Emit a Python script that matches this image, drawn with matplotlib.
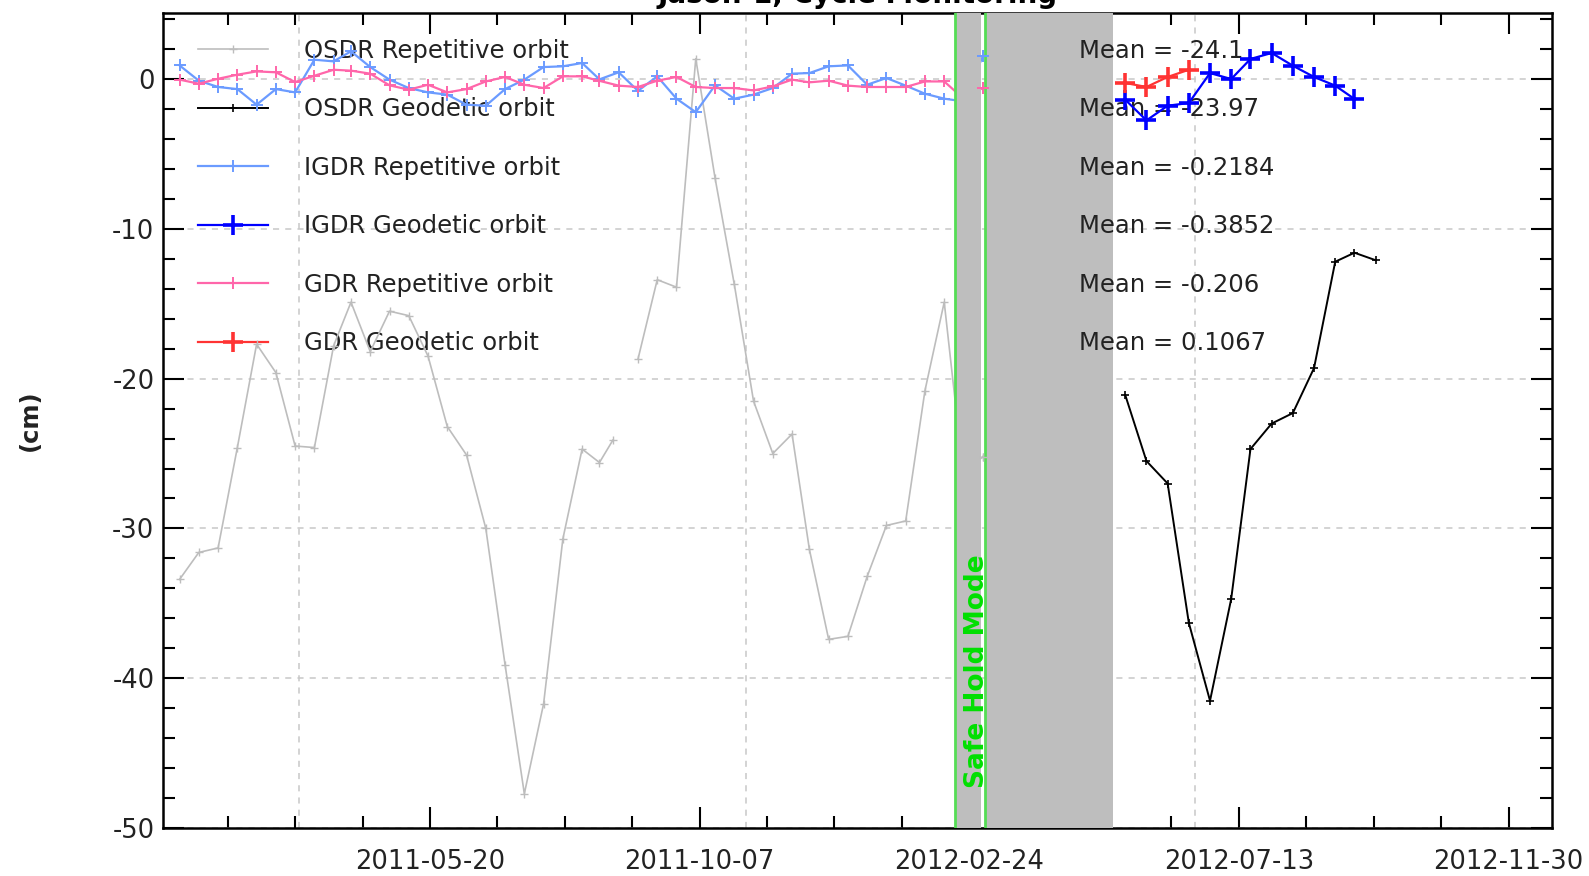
import matplotlib
matplotlib.use('Agg')
import matplotlib.pyplot as plt
import matplotlib.dates as mdates
import matplotlib.ticker as mticker
import pandas as pd

plt.rcParams['font.family'] = ['DejaVu Sans']
plt.rcParams['axes.unicode_minus'] = False

# repetitive orbit cycles (before and just after the safe hold)
rep_dates = ['2011-01-10', '2011-01-20', '2011-01-30', '2011-02-09', '2011-02-19',
             '2011-03-01', '2011-03-11', '2011-03-21', '2011-03-31', '2011-04-09',
             '2011-04-19', '2011-04-29', '2011-05-09', '2011-05-19', '2011-05-29',
             '2011-06-08', '2011-06-18', '2011-06-28', '2011-07-08', '2011-07-18',
             '2011-07-28', '2011-08-07', '2011-08-16', '2011-08-26', '2011-09-05',
             '2011-09-15', '2011-09-25', '2011-10-05', '2011-10-15', '2011-10-25',
             '2011-11-04', '2011-11-14', '2011-11-24', '2011-12-03', '2011-12-13',
             '2011-12-23', '2012-01-02', '2012-01-12', '2012-01-22', '2012-02-01',
             '2012-02-11', '2012-02-21', '2012-03-02']

igdr_rep = [0.90, -0.12, -0.54, -0.68, -1.72, -0.68, -0.90, 1.28, 1.17, 1.84,
            0.79, -0.05, -0.61, -0.90, -1.05, -1.72, -1.79, -0.68, -0.05, 0.79,
            0.84, 1.06, -0.03, 0.44, -0.80, 0.17, -1.32, -2.22, -0.43, -1.32,
            -1.05, -0.61, 0.35, 0.39, 0.84, 0.90, -0.39, 0.06, -0.45, -0.99,
            -1.32, -1.50, 1.50]

gdr_rep = [-0.05, -0.32, 0.01, 0.28, 0.50, 0.44, -0.21, 0.21, 0.61, 0.55,
           0.35, -0.43, -0.72, -0.39, -0.90, -0.68, -0.17, 0.13, -0.39, -0.61,
           0.17, 0.17, -0.13, -0.45, -0.54, -0.12, 0.13, -0.54, -0.61, -0.61,
           -0.77, -0.50, -0.05, -0.23, -0.12, -0.45, -0.54, -0.54, -0.54, -0.17,
           -0.17, -1.32, -0.61]

osdr_dates = ['2011-01-10', '2011-01-20', '2011-01-30', '2011-02-09', '2011-02-19',
              '2011-03-01', '2011-03-11', '2011-03-21', '2011-03-31', '2011-04-09',
              '2011-04-19', '2011-04-29', '2011-05-09', '2011-05-19', '2011-05-29',
              '2011-06-08', '2011-06-18', '2011-06-28', '2011-07-08', '2011-07-18',
              '2011-07-28', '2011-08-07', '2011-08-16', '2011-08-23', None,
              '2011-09-05', '2011-09-15', '2011-09-25', '2011-10-05', '2011-10-15',
              '2011-10-25', '2011-11-04', '2011-11-14', '2011-11-24', '2011-12-03',
              '2011-12-13', '2011-12-23', '2012-01-02', '2012-01-12', '2012-01-22',
              '2012-02-01', '2012-02-11', '2012-02-21', '2012-03-02']

osdr_rep = [-33.4, -31.6, -31.3, -24.6, -17.7, -19.6, -24.5, -24.6, -17.8, -14.9,
            -18.2, -15.5, -15.8, -18.5, -23.2, -25.1, -30.0, -39.1, -47.7, -41.7,
            -30.7, -24.7, -25.6, -24.1, None,
            -18.7, -13.4, -13.9, 1.35, -6.6, -13.7, -21.5, -25.0, -23.7, -31.4,
            -37.4, -37.2, -33.2, -29.8, -29.5, -20.8, -14.9, -26.5, -25.2]

# geodetic orbit sub-cycles
geo_dates = ['2012-05-15', '2012-05-26', '2012-06-06', '2012-06-17', '2012-06-28',
             '2012-07-09', '2012-07-19', '2012-07-30', '2012-08-10', '2012-08-21',
             '2012-09-01', '2012-09-11', '2012-09-22']

osdr_geo = [-21.1, -25.5, -27.0, -36.3, -41.5, -34.7, -24.7, -23.0, -22.3, -19.3,
            -12.2, -11.6, -12.1]
igdr_geo = [-1.39, -2.77, -1.79, -1.61, 0.39, -0.01, 1.33, 1.73, 0.88, 0.13,
            -0.45, -1.34]
gdr_geo = [-0.27, -0.54, 0.13, 0.61]

labels = ['OSDR Repetitive orbit', 'OSDR Geodetic orbit', 'IGDR Repetitive orbit',
          'IGDR Geodetic orbit', 'GDR Repetitive orbit', 'GDR Geodetic orbit']
means = [-24.1, -23.97, -0.2184, -0.3852, -0.206, 0.1067]

shm_start = pd.Timestamp('2012-02-16 18:00')
gap_start = pd.Timestamp('2012-03-01 06:00')
shm_end = pd.Timestamp('2012-03-03 06:00')
span_end = pd.Timestamp('2012-05-08 12:00')
vgrid = ['2011-03-13', '2011-10-31', '2012-06-20']

fig = plt.figure(figsize=(15.89, 8.76), dpi=100)
ax = fig.add_axes([0.1024, 0.0546, 0.8743, 0.9306])

styles = [
    # colour, line width, marker size, marker edge width
    ('#bdbdbd', 1.2, 6, 1.0),
    ('#000000', 1.4, 6, 1.2),
    ('#6b9bff', 1.6, 9, 1.4),
    ('#0000ff', 1.6, 14, 2.6),
    ('#ff66aa', 1.6, 9, 1.4),
    ('#ff3333', 1.6, 14, 2.6),
]
data = [
    (osdr_dates, osdr_rep),
    (geo_dates, osdr_geo),
    (rep_dates, igdr_rep),
    (geo_dates[:len(igdr_geo)], igdr_geo),
    (rep_dates, gdr_rep),
    (geo_dates[:len(gdr_geo)], gdr_geo),
]

for (dates, vals), lab, (col, lw, ms, mew) in zip(data, labels, styles):
    s = pd.Series(vals, index=pd.to_datetime(dates), dtype=float)
    # geodetic series sit above the mean annotations
    z = 5 if s.index.min() > span_end else 2
    ax.plot(s.index, s.values, color=col, lw=lw, marker='+', ms=ms, mew=mew,
            label=lab, zorder=z)
    # cycles after the safe hold stay visible above the shading
    late = s[(s.index > gap_start) & (s.index < span_end)].dropna()
    if len(late):
        ax.plot(late.index, late.values, ls='none', color=col, marker='+',
                ms=ms, mew=mew, zorder=6)

# safe hold mode shading
ax.axvspan(shm_start, gap_start, color='#bebebe', lw=0, zorder=3)
ax.axvspan(shm_end, span_end, color='#bebebe', lw=0, zorder=3)
ax.axvline(shm_start, color='#55dd55', lw=2, zorder=4)
ax.axvline(shm_end, color='#55dd55', lw=2, zorder=4)
ax.text(pd.Timestamp('2012-02-28 05:00'), -47.3, 'Safe Hold Mode', rotation=90,
        color='#00e000', fontsize=19, fontweight='bold', ha='center', va='bottom',
        zorder=5)

# grid
ax.yaxis.grid(True, which='major', linestyle=(0, (4, 4)), color='#c8c8c8', lw=1.1, zorder=0)
for d in vgrid:
    ax.axvline(pd.Timestamp(d), linestyle=(0, (4, 4)), color='#c8c8c8', lw=1.1, zorder=0)
ax.set_axisbelow(True)

ax.set_xlim(pd.Timestamp('2011-01-01 06:00'), pd.Timestamp('2012-12-22 13:00'))
ax.set_ylim(-50, 4.4)

major_x = pd.to_datetime(['2011-05-20', '2011-10-07', '2012-02-24', '2012-07-13', '2012-11-30'])
minor_x = pd.date_range('2010-12-31', '2012-12-31', freq='35D')
ax.xaxis.set_major_locator(mticker.FixedLocator(mdates.date2num(major_x)))
ax.xaxis.set_minor_locator(mticker.FixedLocator(mdates.date2num(minor_x)))
ax.xaxis.set_major_formatter(mdates.DateFormatter('%Y-%m-%d'))
ax.yaxis.set_major_locator(mticker.MultipleLocator(10))
ax.yaxis.set_minor_locator(mticker.MultipleLocator(2))

ax.tick_params(which='both', direction='in', top=True, right=True, width=1.5,
               labelsize=18.5, labelcolor='#222222')
ax.tick_params(which='major', length=15)
ax.tick_params(which='minor', length=8.5)
ax.tick_params(axis='x', pad=15)
ax.tick_params(axis='y', pad=6)
for sp in ax.spines.values():
    sp.set_linewidth(1.8)

ax.set_title('Jason-1, Cycle Monitoring', fontsize=20, fontweight='bold', pad=7)
fig.text(0.0185, 0.5205, '(cm)', rotation=90, fontsize=17.5, fontweight='bold',
         ha='center', va='center', color='#222222')

leg = ax.legend(loc='upper left', bbox_to_anchor=(0.02, 0.9775), frameon=False,
                fontsize=17.5, handlelength=2.9, handletextpad=1.45,
                labelspacing=1.42, borderpad=0.3, borderaxespad=0, numpoints=1)
for t in leg.get_texts():
    t.set_color('#222222')
leg.set_zorder(1)

# mean values written on the legend rows
fig.canvas.draw()
for t, m in zip(leg.get_texts(), means):
    bb = t.get_window_extent()
    y_ax = ax.transAxes.inverted().transform((0, (bb.y0 + bb.y1) / 2))[1]
    ax.text(0.6595, y_ax, f'Mean = {m:g}', transform=ax.transAxes, fontsize=17.5,
            color='#222222', va='center', ha='left', zorder=4)

fig.savefig('out.png', dpi=100)
